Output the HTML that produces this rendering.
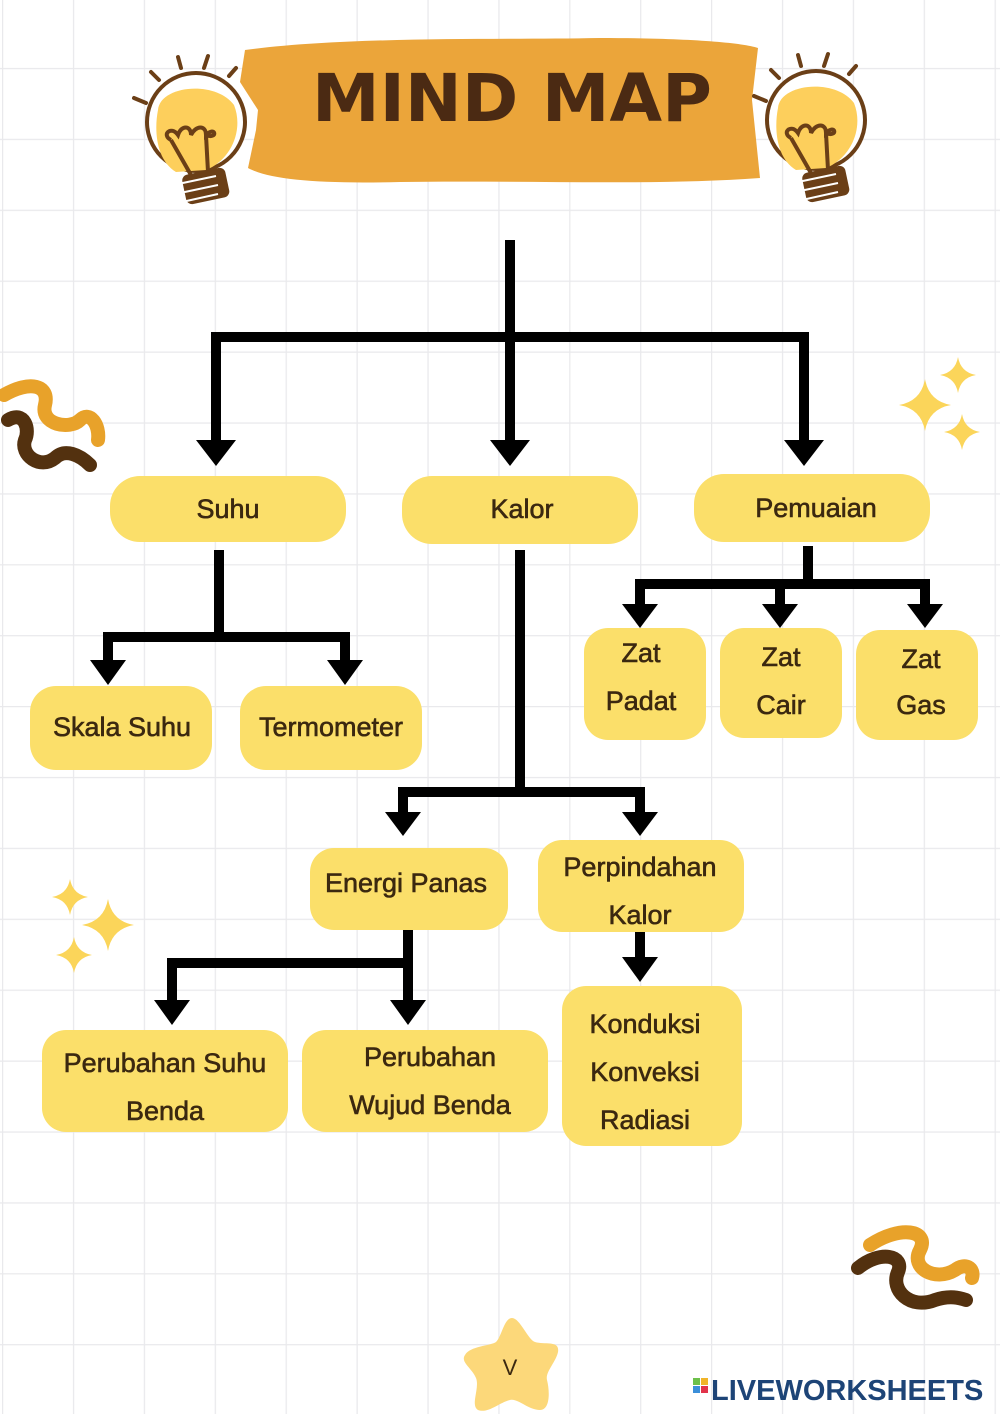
<!DOCTYPE html>
<html><head><meta charset="utf-8"><style>
html,body{margin:0;padding:0;background:#fff}
svg{display:block}
text{font-family:"Liberation Sans",sans-serif}
</style></head><body>
<svg width="1000" height="1414" viewBox="0 0 1000 1414" xmlns="http://www.w3.org/2000/svg">
<defs>
<pattern id="g" x="2" y="-3" width="70.9" height="70.9" patternUnits="userSpaceOnUse">
<path d="M0 0H70.9M0 0V70.9" stroke="#e9e9ec" stroke-width="2.5" fill="none"/>
</pattern>
<g id="bulb">
<g stroke="#6b3f17" stroke-width="4" stroke-linecap="round" fill="none">
<line x1="-62" y1="-42" x2="-50" y2="-37"/><line x1="-45" y1="-68" x2="-37" y2="-60"/>
<line x1="-18" y1="-83" x2="-15" y2="-72"/><line x1="12" y1="-84" x2="8" y2="-72"/>
<line x1="40" y1="-72" x2="33" y2="-64"/>
</g>
<circle cx="0" cy="-18" r="49" fill="#fff" stroke="#6b3f17" stroke-width="4"/>
<path d="M-38 -30 C-36 -55 20 -60 38 -35 C48 -10 35 20 10 30 L-20 32 C-40 20 -42 -10 -38 -30Z" fill="#fdcf5c"/>
<g stroke="#6b3f17" stroke-width="4" fill="none">
<path d="M-5 35 L-25 0 M12 32 L10 -5 M-25 0 C-35 -5 -25 -15 -18 -5 C-15 -15 -5 -15 -5 -5 C0 -15 10 -15 10 -5 C20 -15 22 0 10 -5"/>
</g>
<rect x="-22" y="32" width="44" height="30" rx="6" fill="#6b3f17" transform="rotate(-12)"/>
<g stroke="#fff" stroke-width="2"><line x1="-18" y1="44" x2="20" y2="36"/><line x1="-16" y1="53" x2="22" y2="45"/><line x1="-14" y1="62" x2="22" y2="54"/></g>
</g>
<path id="spark" d="M0 -20 Q3 -3 20 0 Q3 3 0 20 Q-3 3 -20 0 Q-3 -3 0 -20Z" fill="#fbd55a"/>
</defs>
<rect width="1000" height="1414" fill="url(#g)"/>

<!-- title banner -->
<path d="M245 50 C350 36 500 40 600 38 C680 38 740 42 758 48 L752 100 L760 178 C650 186 520 180 400 182 C320 184 270 180 248 168 L256 130 L258 110 L240 82 Z" fill="#eba53a"/>
<text x="512" y="121" text-anchor="middle" font-size="66" font-weight="900" fill="#4b2a13" textLength="400" lengthAdjust="spacingAndGlyphs" style="font-family:'DejaVu Sans','Liberation Sans',sans-serif">MIND MAP</text>
<use href="#bulb" x="196" y="140"/>
<use href="#bulb" x="816" y="138"/>

<!-- squiggles -->
<g fill="none" stroke-linecap="round" stroke-width="14">
<path d="M4 395 C30 380 50 385 45 405 C40 425 70 430 80 420 C90 410 100 425 98 440" stroke="#e8a22a"/>
<path d="M8 420 C25 410 30 430 25 440 C20 455 40 470 55 458 C65 448 80 455 90 465" stroke="#53310f"/>
<path d="M870 1245 C900 1225 930 1230 920 1250 C910 1268 935 1282 955 1270 C965 1262 975 1268 972 1278" stroke="#e8a22a"/>
<path d="M858 1268 C880 1250 905 1255 898 1272 C890 1290 910 1310 935 1300 C950 1295 960 1298 966 1300" stroke="#53310f"/>
</g>
<!-- sparkles -->
<use href="#spark" transform="translate(925 405) scale(1.3)"/>
<use href="#spark" transform="translate(958 375) scale(0.9)"/>
<use href="#spark" transform="translate(962 432) scale(0.9)"/>
<use href="#spark" transform="translate(108 925) scale(1.3)"/>
<use href="#spark" transform="translate(70 897) scale(0.9)"/>
<use href="#spark" transform="translate(74 955) scale(0.9)"/>

<!-- connectors -->
<g stroke="#000" stroke-width="10" fill="none" stroke-linejoin="miter">
<path d="M510 240 V445"/>
<path d="M216 445 V337 H804 V445"/>
<path d="M219 550 V637 M108 664 V637 H345 V664"/>
<path d="M808 546 V584 M640 608 V584 H925 V608 M780 584 V608"/>
<path d="M520 550 V792 M403 815 V792 H640 V815"/>
<path d="M408 930 V1003 M172 1003 V963 H408"/>
<path d="M640 932 V960"/>
</g>
<g fill="#000">
<path d="M196 440 H236 L216 466Z"/><path d="M490 440 H530 L510 466Z"/><path d="M784 440 H824 L804 466Z"/>
<path d="M90 660 H126 L108 685Z"/><path d="M327 660 H363 L345 685Z"/>
<path d="M622 604 H658 L640 628Z"/><path d="M762 604 H798 L780 628Z"/><path d="M907 604 H943 L925 628Z"/>
<path d="M385 812 H421 L403 836Z"/><path d="M622 812 H658 L640 836Z"/>
<path d="M154 1000 H190 L172 1025Z"/><path d="M390 1000 H426 L408 1025Z"/>
<path d="M622 957 H658 L640 982Z"/>
</g>

<!-- nodes -->
<g fill="#fbdf6a">
<rect x="110" y="476" width="236" height="66" rx="30"/>
<rect x="402" y="476" width="236" height="68" rx="30"/>
<rect x="694" y="474" width="236" height="68" rx="30"/>
<rect x="30" y="686" width="182" height="84" rx="26"/>
<rect x="240" y="686" width="182" height="84" rx="26"/>
<rect x="584" y="628" width="122" height="112" rx="24"/>
<rect x="720" y="628" width="122" height="110" rx="24"/>
<rect x="856" y="630" width="122" height="110" rx="24"/>
<rect x="310" y="848" width="198" height="82" rx="24"/>
<rect x="538" y="840" width="206" height="92" rx="24"/>
<rect x="42" y="1030" width="246" height="102" rx="24"/>
<rect x="302" y="1030" width="246" height="102" rx="24"/>
<rect x="562" y="986" width="180" height="160" rx="24"/>
</g>
<g fill="#3b2810" font-size="27" text-anchor="middle" stroke="#3b2810" stroke-width="0.6">
<text x="228" y="518">Suhu</text>
<text x="522" y="518">Kalor</text>
<text x="816" y="517">Pemuaian</text>
<text x="122" y="736">Skala Suhu</text>
<text x="331" y="736">Termometer</text>
<text x="641" y="662">Zat</text><text x="641" y="710">Padat</text>
<text x="781" y="666">Zat</text><text x="781" y="714">Cair</text>
<text x="921" y="668">Zat</text><text x="921" y="714">Gas</text>
<text x="406" y="892">Energi Panas</text>
<text x="640" y="876">Perpindahan</text><text x="640" y="924">Kalor</text>
<text x="165" y="1072">Perubahan Suhu</text><text x="165" y="1120">Benda</text>
<text x="430" y="1066">Perubahan</text><text x="430" y="1114">Wujud Benda</text>
<text x="645" y="1033">Konduksi</text><text x="645" y="1081">Konveksi</text><text x="645" y="1129">Radiasi</text>
</g>

<!-- star -->
<path d="M512 1318 C520 1318 528 1340 535 1342 C545 1345 560 1340 558 1352 C556 1362 545 1372 547 1380 C550 1392 550 1410 540 1410 C528 1410 518 1398 510 1400 C500 1402 488 1414 478 1410 C470 1405 480 1388 476 1378 C472 1368 460 1362 465 1355 C470 1346 490 1346 496 1342 C502 1336 504 1318 512 1318Z" fill="#fcd87a"/>
<text x="510" y="1375" text-anchor="middle" font-size="22" fill="#3b2810">V</text>

<!-- liveworksheets -->
<rect x="693" y="1378" width="7" height="7" fill="#6cc04a"/><rect x="701" y="1378" width="7" height="7" fill="#f0b429"/>
<rect x="693" y="1386" width="7" height="7" fill="#3b8fd9"/><rect x="701" y="1386" width="7" height="7" fill="#e2334a"/>
<text x="711" y="1400" font-size="29" font-weight="bold" fill="#1d4477">LIVEWORKSHEETS</text>
</svg>
</body></html>
